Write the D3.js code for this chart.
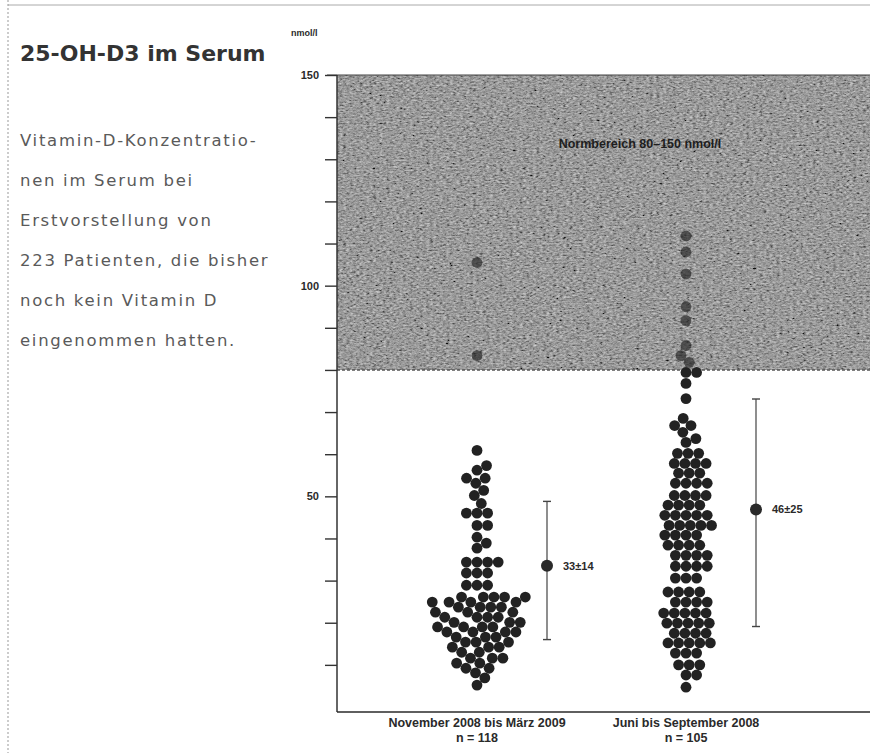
<!DOCTYPE html>
<meta charset="utf-8">
<script src="https://d3js.org/d3.v7.min.js"></script>

<style>
  body {
    margin: 0;
    background: #fff;
  }

  .title {
    font: 600 22px "DejaVu Sans", sans-serif;
    fill: #333;
  }

  .intro {
    font: 16.5px "DejaVu Sans", sans-serif;
    letter-spacing: 1.7px;
    fill: #5a5a5a;
  }

  .small {
    font: bold 11px "Liberation Sans Narrow", "Liberation Sans", sans-serif;
    fill: #2a2a2a;
  }

  .axis text {
    font: bold 11px "Liberation Sans Narrow", "Liberation Sans", sans-serif;
    fill: #2a2a2a;
  }

  .axis line {
    stroke: #333;
    stroke-width: 1.4px;
  }
</style>

<body>
  <div id="chart"></div>

  <script>
    // categories and n
    const groups = ["November 2008 bis März 2009", "Juni bis September 2008"];
    const counts = ["n = 118", "n = 105"];

    // 25-OH-D3 values in nmol/l
    const winter = [
      105.5, 83.4,
      60.9, 57.3, 56.2, 54.3, 54.3, 53.1, 51.4, 50.2, 48.3,
      46.0, 46.0, 46.0, 43.1, 43.1, 40.3, 38.9, 37.7,
      34.4, 34.4, 34.4, 34.4, 31.8, 31.8, 31.8, 28.9, 28.9, 28.9,
      26.1, 26.1, 26.1, 26.1, 26.1,
      24.9, 24.9, 24.9, 24.9,
      23.7, 23.7, 23.7, 23.7,
      22.5, 22.5, 22.5,
      21.3, 21.3, 21.3, 21.3,
      20.1, 20.1, 20.1,
      19.0, 19.0, 19.0, 19.0,
      17.8, 17.8, 17.8, 17.8,
      16.6, 16.6, 16.6,
      15.4, 15.4, 15.4,
      14.2, 14.2, 14.2,
      13.0, 13.0,
      11.6, 11.6, 11.6,
      10.4, 10.4,
      9.2, 9.2,
      8.1, 6.9, 5.2
    ];

    const summer = [
      111.8, 108.0, 102.8, 95.0, 91.7, 85.8, 83.4, 81.8, 79.4, 79.4,
      76.8, 73.2, 68.5, 66.8, 66.8, 65.2, 63.7,
      62.8,
      60.2, 60.2, 60.2,
      57.8, 57.8, 57.8, 57.8,
      55.5, 55.5, 55.5,
      53.1, 53.1, 53.1, 53.1,
      50.2, 50.2, 50.2, 50.2,
      47.9, 47.9, 47.9, 47.9,
      45.5, 45.5, 45.5, 45.5, 45.5,
      43.1, 43.1, 43.1, 43.1, 43.1,
      40.8, 40.8, 40.8, 40.8,
      38.4, 38.4, 38.4, 38.4,
      36.0, 36.0, 36.0, 36.0,
      33.4, 33.4, 33.4, 33.4,
      30.6, 30.6, 30.6,
      27.3, 27.3, 27.3, 27.3,
      24.9, 24.9, 24.9, 24.9,
      22.3, 22.3, 22.3, 22.3, 22.3,
      19.9, 19.9, 19.9, 19.9, 19.9,
      17.5, 17.5, 17.5, 17.5,
      15.2, 15.2, 15.2, 15.2, 15.2,
      12.8, 12.8, 12.8,
      10.0, 10.0, 10.0,
      7.6, 7.6,
      4.7
    ];

    // mean and spread bars
    const means = [33.5, 46.9];
    const lows = [16.0, 19.1];
    const highs = [48.8, 73.1];
    const statLabels = ["33±14", "46±25"];

    // target range band
    const band = [80, 150];
    const yTicks = [10, 20, 30, 40, 50, 60, 70, 80, 90, 100, 110, 120, 130, 140, 150];

    const introLines = [
      "Vitamin-D-Konzentratio-",
      "nen im Serum bei",
      "Erstvorstellung von",
      "223  Patienten, die bisher",
      "noch kein Vitamin D",
      "eingenommen hatten."
    ];

    let width = 870,
        height = 753;

    const svg = d3.select("#chart")
      .append("svg")
      .attr("width", width)
      .attr("height", height);

    // scan grain for the grey band
    const defs = svg.append("defs");
    const grain = defs.append("filter").attr("id", "grain")
      .attr("x", 0).attr("y", 0).attr("width", 1).attr("height", 1);
    grain.append("feTurbulence")
      .attr("type", "fractalNoise")
      .attr("baseFrequency", "0.3 0.6")
      .attr("numOctaves", 3)
      .attr("seed", 7);
    grain.append("feColorMatrix")
      .attr("type", "matrix")
      .attr("values", "0.33 0.33 0.33 0 0  0.33 0.33 0.33 0 0  0.33 0.33 0.33 0 0  0 0 0 0 1");
    const ct = grain.append("feComponentTransfer");
    ["feFuncR", "feFuncG", "feFuncB"].forEach(f => {
      ct.append(f).attr("type", "linear").attr("slope", 1.6).attr("intercept", -0.42);
    });
    grain.append("feComposite").attr("in2", "SourceGraphic").attr("operator", "in");

    // page frame
    svg.append("line")
      .attr("x1", 8).attr("x2", width).attr("y1", 5).attr("y2", 5)
      .attr("stroke", "#aaa").attr("stroke-width", 1);
    svg.append("line")
      .attr("x1", 8).attr("x2", 8).attr("y1", 0).attr("y2", height)
      .attr("stroke", "#999").attr("stroke-width", 1)
      .attr("stroke-dasharray", "2 2");

    // left text
    svg.append("text")
      .attr("class", "title")
      .attr("x", 20).attr("y", 61)
      .text("25-OH-D3 im Serum");

    svg.selectAll("text.intro")
      .data(introLines)
      .enter()
      .append("text")
      .attr("class", "intro")
      .attr("x", 20)
      .attr("y", (d, i) => 146 + i * 40)
      .text(d => d);

    // plot
    const plotLeft = 337,
          plotRight = 870,
          axisBottom = 712;

    const y = d3.scaleLinear()
      .domain([0, 150])
      .range([707, 75]);

    const x = d3.scalePoint()
      .domain(groups)
      .range([plotLeft + 140, plotLeft + 349]);

    const g = svg.append("g");

    // band
    g.append("rect")
      .attr("x", plotLeft).attr("width", plotRight - plotLeft)
      .attr("y", y(band[1])).attr("height", y(band[0]) - y(band[1]))
      .attr("fill", "#5e5e5e");
    g.append("rect")
      .attr("x", plotLeft).attr("width", plotRight - plotLeft)
      .attr("y", y(band[1])).attr("height", y(band[0]) - y(band[1]))
      .attr("fill", "#000")
      .attr("filter", "url(#grain)")
      .attr("opacity", 0.85);
    g.append("line")
      .attr("x1", plotLeft - 10).attr("x2", plotRight)
      .attr("y1", y(band[1])).attr("y2", y(band[1]))
      .attr("stroke", "#444").attr("stroke-width", 1.2);
    g.append("line")
      .attr("x1", plotLeft).attr("x2", plotRight)
      .attr("y1", y(band[0])).attr("y2", y(band[0]))
      .attr("stroke", "#555").attr("stroke-width", 1.5)
      .attr("stroke-dasharray", "3 2");
    g.append("text")
      .attr("class", "small")
      .attr("x", 640).attr("y", 148)
      .attr("text-anchor", "middle")
      .style("font-size", "12.5px")
      .style("fill", "#1e1e1e")
      .text("Normbereich 80–150 nmol/l");

    // y axis
    const yAxis = d3.axisLeft(y)
      .tickValues(yTicks)
      .tickSize(12)
      .tickPadding(6)
      .tickFormat(d => (d % 50 === 0 ? d : ""));

    g.append("g")
      .attr("class", "axis")
      .attr("transform", `translate(${plotLeft},0)`)
      .call(yAxis)
      .call(a => a.select(".domain").remove());

    g.append("line")
      .attr("x1", plotLeft).attr("x2", plotLeft)
      .attr("y1", y(band[1])).attr("y2", axisBottom)
      .attr("stroke", "#333").attr("stroke-width", 1.5);

    g.append("line")
      .attr("x1", plotLeft).attr("x2", plotRight)
      .attr("y1", axisBottom).attr("y2", axisBottom)
      .attr("stroke", "#2a2a2a").attr("stroke-width", 1.6);

    svg.append("text")
      .attr("class", "small")
      .attr("x", 291).attr("y", 36)
      .style("font-size", "9px")
      .text("nmol/l");

    // category labels
    const cat = g.selectAll("g.cat")
      .data(groups)
      .enter()
      .append("g")
      .attr("class", "cat")
      .attr("transform", d => `translate(${x(d)},0)`);
    cat.append("text")
      .attr("class", "small")
      .attr("text-anchor", "middle")
      .style("font-size", "12.5px")
      .attr("y", 727)
      .text(d => d);
    cat.append("text")
      .attr("class", "small")
      .attr("text-anchor", "middle")
      .style("font-size", "12.5px")
      .attr("y", 742)
      .text((d, i) => counts[i]);

    // beeswarm layout: each dot at its value, pushed sideways until free
    const r = 5.4,
          gap = 10.6;

    function swarm(values) {
      const pts = values.slice().sort((a, b) => a - b)
        .map(v => ({ v: v, y: y(v), dx: 0 }));
      const placed = [];
      pts.forEach(p => {
        const near = placed.filter(q => Math.abs(q.y - p.y) < gap);
        const cands = [0];
        near.forEach(q => {
          const off = Math.sqrt(gap * gap - (q.y - p.y) * (q.y - p.y));
          cands.push(q.dx + off, q.dx - off);
        });
        cands.sort((a, b) => Math.abs(a) - Math.abs(b));
        for (const c of cands) {
          const ok = near.every(q => (q.dx - c) * (q.dx - c) + (q.y - p.y) * (q.y - p.y) >= gap * gap - 0.01);
          if (ok) { p.dx = c; break; }
        }
        placed.push(p);
      });
      return pts;
    }

    [winter, summer].forEach((vals, i) => {
      const cx = x(groups[i]);
      g.append("g")
        .selectAll("circle")
        .data(swarm(vals))
        .enter()
        .append("circle")
        .attr("cx", d => cx + d.dx)
        .attr("cy", d => d.y)
        .attr("r", r)
        .attr("fill", "#222")
        .attr("opacity", d => (d.v > band[0] ? 0.65 : 1));

      // mean and spread
      const bx = cx + 70;
      const eb = g.append("g").attr("stroke", "#444");
      eb.append("line")
        .attr("x1", bx).attr("x2", bx)
        .attr("y1", y(highs[i])).attr("y2", y(lows[i]))
        .attr("stroke-width", 1.2);
      eb.selectAll("line.cap")
        .data([highs[i], lows[i]])
        .enter()
        .append("line")
        .attr("class", "cap")
        .attr("x1", bx - 4).attr("x2", bx + 4)
        .attr("y1", d => y(d)).attr("y2", d => y(d))
        .attr("stroke-width", 1.4);
      g.append("circle")
        .attr("cx", bx).attr("cy", y(means[i]))
        .attr("r", 6)
        .attr("fill", "#2a2a2a");
      g.append("text")
        .attr("class", "small")
        .attr("x", bx + 16).attr("y", y(means[i]) + 4)
        .text(statLabels[i]);
    });
  </script>
</body>
